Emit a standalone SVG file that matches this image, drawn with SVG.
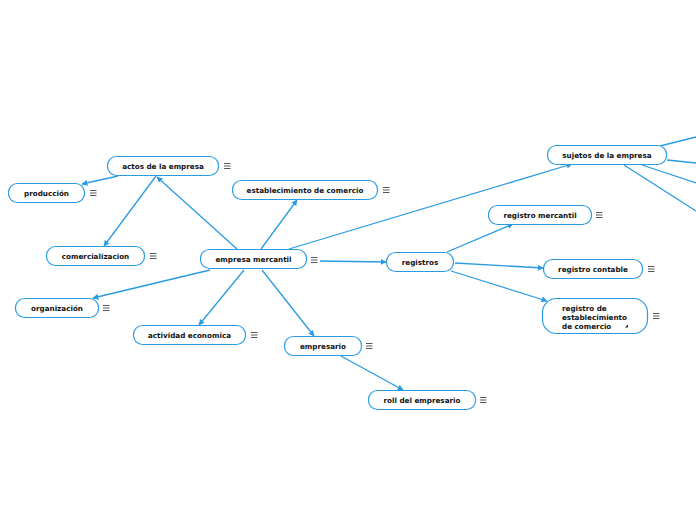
<svg xmlns="http://www.w3.org/2000/svg" width="696" height="520" viewBox="0 0 696 520">
<style>
.n rect{fill:#fff;stroke:#2a9be3;stroke-width:1.2}
.n text{font-family:"DejaVu Sans",Verdana,sans-serif;font-weight:bold;font-size:7.2px;fill:#111;text-anchor:middle}
.c path{fill:none;stroke:#2a9be3;stroke-width:1.3}
</style>
<defs>
<marker id="a" viewBox="0 0 10 10" refX="9" refY="5" markerWidth="6" markerHeight="6" orient="auto" markerUnits="userSpaceOnUse"><path d="M0,0L10,5L0,10z" fill="#2a9be3"/></marker>
<path id="mi" d="M0,0.5h6.5M0,3h6.5M0,5.5h6.5" stroke="#444" stroke-width="0.9" fill="none"/>
</defs>
<rect width="696" height="520" fill="#fff"/>
<g class="c">
<path d="M237,249L157,177" marker-end="url(#a)"/>
<path d="M118,176L82,184" marker-end="url(#a)"/>
<path d="M156,176L104,246" marker-end="url(#a)"/>
<path d="M261,249L297,200" marker-end="url(#a)"/>
<path d="M289,249L572,164" marker-end="url(#a)"/>
<path d="M320,261L386,262" marker-end="url(#a)"/>
<path d="M210,270L93,298" marker-end="url(#a)"/>
<path d="M244,270L199,325" marker-end="url(#a)"/>
<path d="M262,270L314,336" marker-end="url(#a)"/>
<path d="M341,356L403,390" marker-end="url(#a)"/>
<path d="M447,252L513,224" marker-end="url(#a)"/>
<path d="M455,263L543,268" marker-end="url(#a)"/>
<path d="M451,271L547,301" marker-end="url(#a)"/>
<path d="M660,146L696,137"/>
<path d="M667,160L696,163"/>
<path d="M642,165L696,183"/>
<path d="M624,165L696,211"/>
</g>
<g id="actos" class="n"><rect x="107.5" y="156.5" width="111" height="19" rx="9"/><text x="163" y="168.5">actos de la empresa</text></g>
<g id="produccion" class="n"><rect x="8.5" y="183.5" width="76" height="19" rx="9"/><text x="46.5" y="195.5">producción</text></g>
<g id="comercializacion" class="n"><rect x="46.5" y="246.5" width="98" height="19" rx="9"/><text x="95.5" y="258.5">comercializacion</text></g>
<g id="establecimiento" class="n"><rect x="232.5" y="180.5" width="145" height="19" rx="9"/><text x="305" y="192.5">establecimiento de comercio</text></g>
<g id="empresa" class="n"><rect x="200.5" y="249.5" width="106" height="19" rx="9"/><text x="253.5" y="261.5">empresa mercantil</text></g>
<g id="organizacion" class="n"><rect x="15.5" y="298.5" width="83" height="19" rx="9"/><text x="57" y="310.5">organización</text></g>
<g id="actividad" class="n"><rect x="133.5" y="325.5" width="112" height="19" rx="9"/><text x="189.5" y="337.5">actividad economica</text></g>
<g id="empresario" class="n"><rect x="284.5" y="336.5" width="77" height="19" rx="9"/><text x="323" y="348.5">empresario</text></g>
<g id="roll" class="n"><rect x="368.5" y="390.5" width="107" height="19" rx="9"/><text x="422" y="402.5">roll del empresario</text></g>
<g id="registros" class="n"><rect x="386.5" y="252.5" width="67" height="19" rx="9"/><text x="420" y="264.5">registros</text></g>
<g id="mercantil" class="n"><rect x="488.5" y="205.5" width="103" height="19" rx="9"/><text x="540" y="217.5">registro mercantil</text></g>
<g id="contable" class="n"><rect x="543.5" y="259.5" width="99" height="19" rx="9"/><text x="593" y="271.5">registro contable</text></g>
<g id="regest" class="n"><rect x="542.5" y="298.5" width="105" height="35" rx="14"/><text x="562" y="311" style="text-anchor:start">registro de</text><text x="562" y="320" style="text-anchor:start">establecimiento</text><text x="562" y="328.5" style="text-anchor:start">de comercio</text><path d="M628,324.5v3h-3z" fill="#222"/></g>
<g id="sujetos" class="n"><rect x="547.5" y="145.5" width="119" height="19" rx="9"/><text x="607" y="157.5">sujetos de la empresa</text></g>
<g id="menus">
<use href="#mi" x="224" y="163"/>
<use href="#mi" x="90" y="190"/>
<use href="#mi" x="150" y="253"/>
<use href="#mi" x="383" y="187"/>
<use href="#mi" x="311" y="257"/>
<use href="#mi" x="103" y="305"/>
<use href="#mi" x="251" y="332"/>
<use href="#mi" x="366" y="343"/>
<use href="#mi" x="480" y="397"/>
<use href="#mi" x="596" y="212"/>
<use href="#mi" x="648" y="266"/>
<use href="#mi" x="653" y="313"/>
</g>
</svg>
